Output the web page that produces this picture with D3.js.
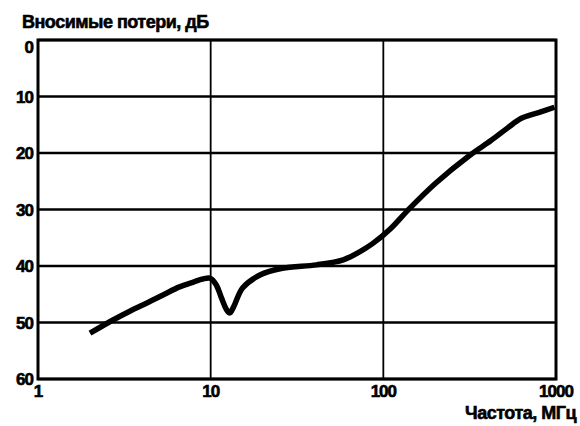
<html>
<head>
<meta charset="utf-8" />
<script src="https://d3js.org/d3.v7.min.js"></script>
<style>
body { margin: 0; background: #fff; }
text { font-family: "Liberation Sans", Arial, sans-serif; font-weight: bold; fill: #000; stroke: #000; stroke-width: 0.6px; }
</style>
</head>
<body>
<svg id="chart" width="580" height="426"></svg>
<script>

// frequency, MHz
var freq = [2.0, 2.7, 3.4, 4.3, 5.4, 6.6, 8.0, 9.0, 10.0, 10.8, 11.5, 12.4, 12.9, 13.6, 15.3, 19.3, 26, 41, 58.6, 73.7, 87, 110, 139, 200, 317, 420, 523, 626, 800, 980];
// insertion loss, dB
var loss = [51.9, 49.6, 48.0, 46.5, 45.0, 43.7, 42.8, 42.3, 42.2, 43.4, 45.5, 47.8, 48.3, 47.2, 43.9, 41.6, 40.4, 39.8, 38.9, 37.4, 36.0, 33.4, 30.1, 25.4, 20.4, 17.8, 15.6, 13.9, 12.8, 11.9];

var yTicks = [0, 10, 20, 30, 40, 50, 60];
var xTicks = [1, 10, 100, 1000];
var xTickLabels = ["1", "10", "100", "1000"];

var margin = {top: 40, right: 24, bottom: 47, left: 38};
var width = 580 - margin.left - margin.right;
var height = 426 - margin.top - margin.bottom;

var svg = d3.select("#chart");
var g = svg.append("g").attr("transform", "translate(" + margin.left + "," + margin.top + ")");

var x = d3.scaleLog().domain([1, 1000]).range([0, width]);
var y = d3.scaleLinear().domain([0, 60]).range([0, height]);

// horizontal grid
g.selectAll(".hgrid")
    .data(yTicks)
    .enter().append("line")
    .attr("x1", 0).attr("x2", width)
    .attr("y1", function(d) { return y(d); })
    .attr("y2", function(d) { return y(d); })
    .attr("stroke", "#000")
    .attr("stroke-width", 2.5);

// vertical grid
g.selectAll(".vgrid")
    .data([10, 100])
    .enter().append("line")
    .attr("x1", function(d) { return x(d); })
    .attr("x2", function(d) { return x(d); })
    .attr("y1", 0).attr("y2", height)
    .attr("stroke", "#000")
    .attr("stroke-width", 1.8);

// frame
g.append("rect")
    .attr("width", width).attr("height", height)
    .attr("fill", "none")
    .attr("stroke", "#000")
    .attr("stroke-width", 3);

// y tick labels (the top one sits just under the frame)
g.selectAll(".ylab")
    .data(yTicks)
    .enter().append("text")
    .attr("x", -5)
    .attr("y", function(d, i) { return y(d) + (i == 0 ? 13 : 6); })
    .attr("text-anchor", "end")
    .attr("font-size", 17)
    .attr("letter-spacing", -1)
    .text(function(d) { return d; });

// x tick labels
g.selectAll(".xlab")
    .data(xTicks)
    .enter().append("text")
    .attr("x", function(d) { return x(d); })
    .attr("y", height + 18)
    .attr("text-anchor", "middle")
    .attr("font-size", 17)
    .attr("letter-spacing", -1)
    .text(function(d, i) { return xTickLabels[i]; });

// titles
svg.append("text")
    .attr("x", 22).attr("y", 28)
    .attr("font-size", 18)
    .attr("letter-spacing", -0.5)
    .text("Вносимые потери, дБ");

svg.append("text")
    .attr("x", 576).attr("y", 419)
    .attr("text-anchor", "end")
    .attr("font-size", 18)
    .attr("letter-spacing", -0.5)
    .text("Частота, МГц");

// curve
var line = d3.line()
    .curve(d3.curveCatmullRom)
    .x(function(d, i) { return x(freq[i]); })
    .y(function(d) { return y(d); });

g.append("path")
    .datum(loss)
    .attr("d", line)
    .attr("fill", "none")
    .attr("stroke", "#000")
    .attr("stroke-width", 5.5)
    .attr("stroke-linecap", "butt");

</script>
</body>
</html>
